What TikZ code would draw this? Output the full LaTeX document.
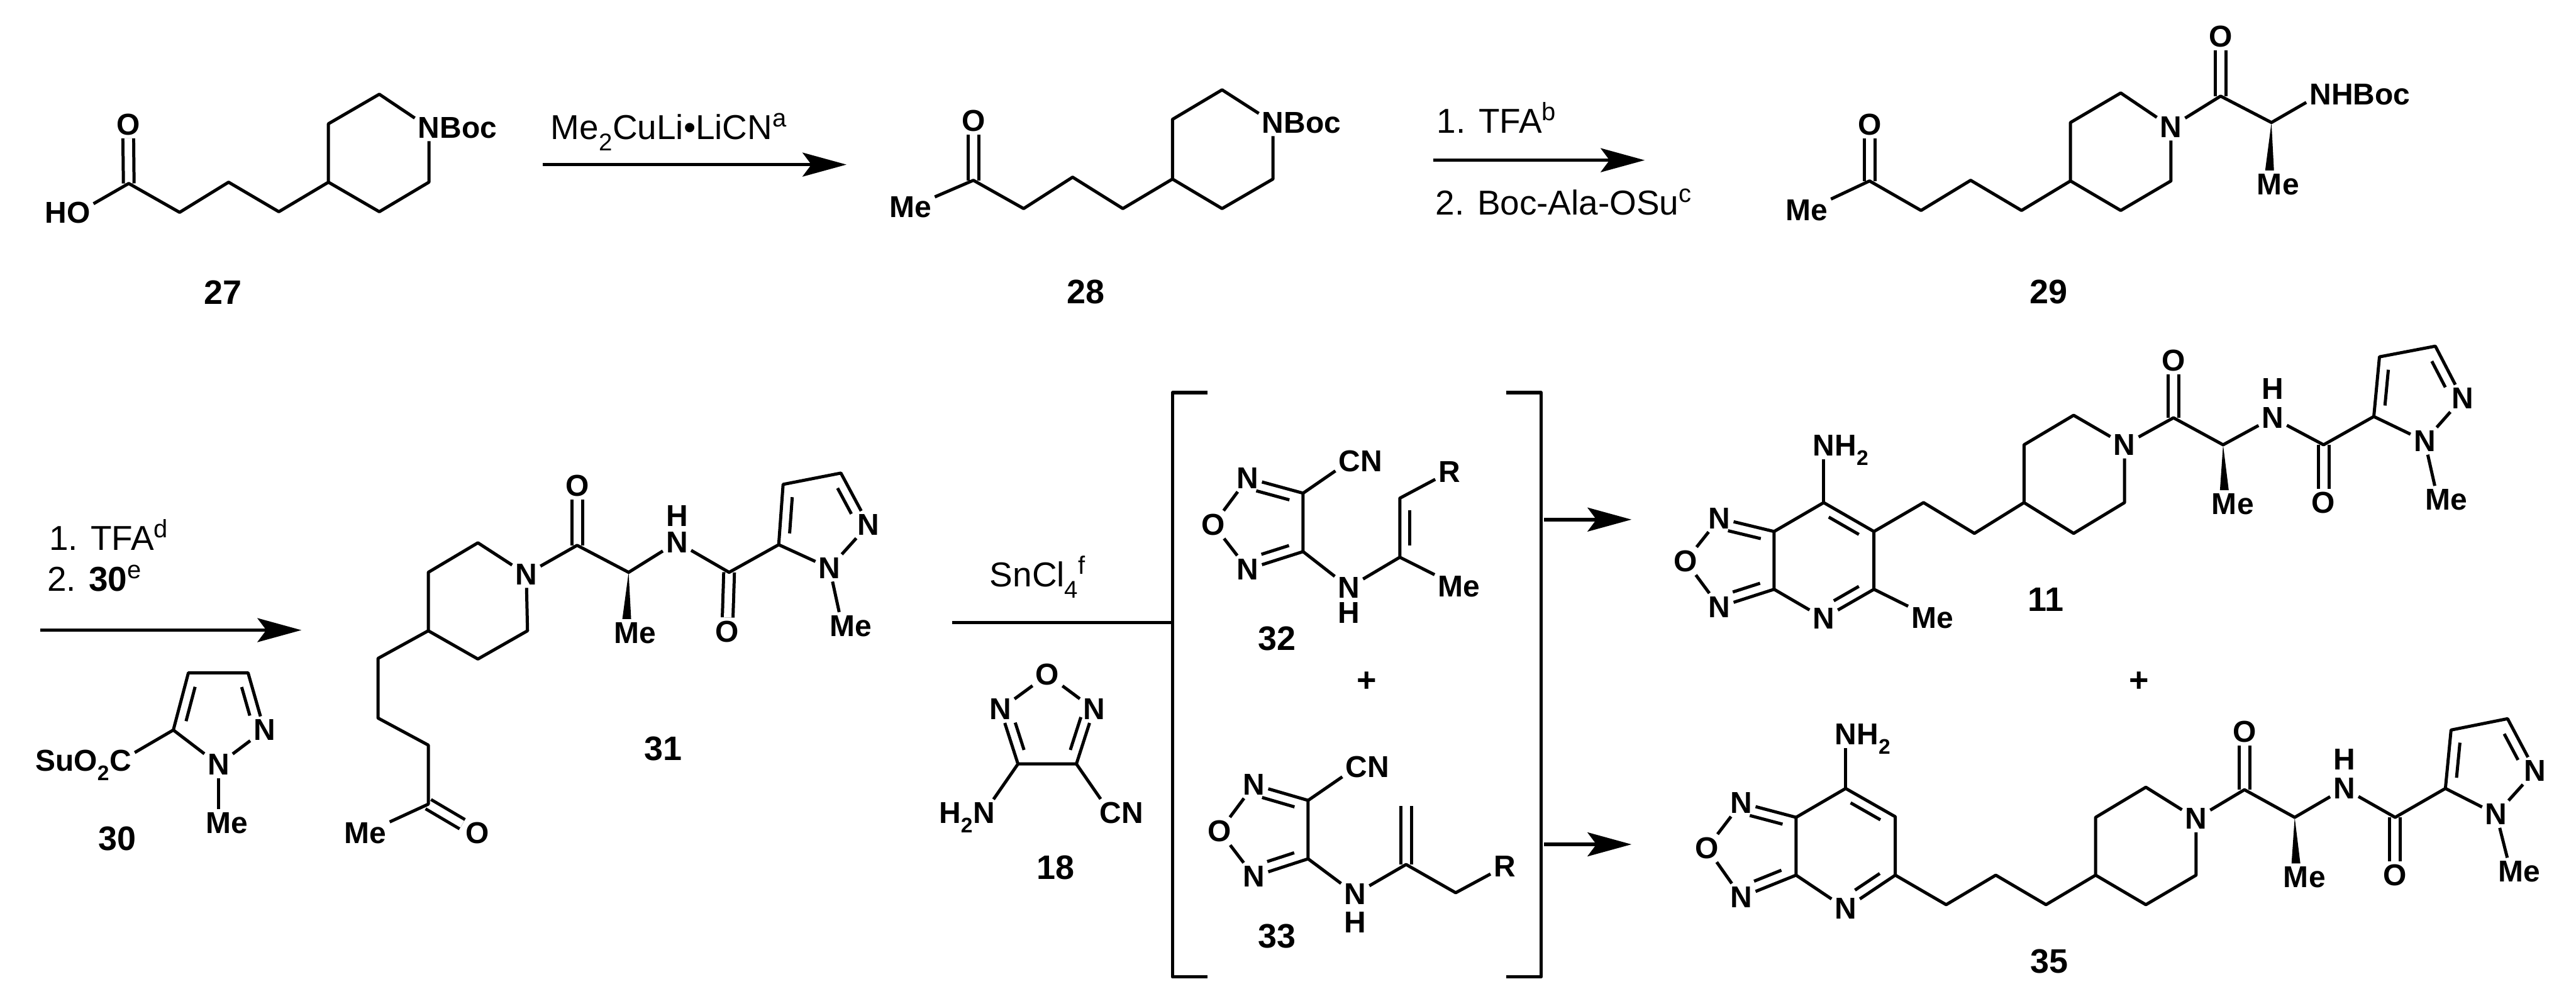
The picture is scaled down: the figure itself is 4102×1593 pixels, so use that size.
\documentclass[tikz,border=0pt]{standalone}
\usepackage{fontspec}
\setmainfont{Liberation Sans}
\usetikzlibrary{arrows.meta,calc,positioning}
\tikzset{
    bond/.style={line width=5pt,line join=round},
    dbl/.style={line width=5pt,double,double distance=12pt},
    rxn/.style={line width=5.5pt,-{Stealth[length=70pt,width=38pt,inset=14pt]}},
    atom/.style={font=\fontsize{48}{52}\selectfont\bfseries,inner sep=5pt},
    tailr/.style={atom,inner xsep=0pt,base right=-5pt of #1},
    taill/.style={atom,inner xsep=0pt,base left=-5pt of #1},
    cmpd/.style={font=\fontsize{54}{58}\selectfont\bfseries,inner sep=0pt},
    reagent/.style={font=\fontsize{55}{58}\selectfont,inner sep=0pt,anchor=base west}
}
\newcommand{\innerbond}[3][.2]{\draw[bond] ($(#2)!#1!(#3)!16pt!90:(#3)$) -- ($(#3)!.2!(#2)!16pt!-90:(#2)$);}
\newcommand{\wedgebond}[2]{\fill (#1) -- ([xshift=-7pt]#2.north) -- ([xshift=7pt]#2.north) -- cycle;}
\newcommand{\rgsup}[1]{\raisebox{20pt}{\fontsize{40}{42}\selectfont #1}}
\begin{document}
\begin{tikzpicture}[x=1pt,y=-1pt]
    \useasboundingbox (0,0) rectangle (4102,1593);

    \foreach \name/\xx/\yy in {c27a/205/292,c27b/286/338,c27c/364/290,c27d/444/337,c27e/523/290,c27f/523/197,c27g/604/150,c27h/683/290,c27i/604/337}
        \coordinate (\name) at (\xx,\yy);
    \node[atom] (o27a) at (204,198) {O};
    \node[atom] (o27b) at (125,338) {O};
    \node[taill=o27b] (h27) {H};
    \node[atom] (n27) at (683,203) {N};
    \node[tailr=n27] (boc27) {Boc};
    \draw[dbl] (c27a) -- (o27a);
    \draw[bond] (o27b) -- (c27a) -- (c27b) -- (c27c) -- (c27d) -- (c27e) -- (c27f) -- (c27g) -- (n27) -- (c27h) -- (c27i) -- (c27e);
    \node[cmpd] (lab27) at (355,465) {27};

    \coordinate (arr1a) at (864,262);
    \coordinate (arr1b) at (1348,262);
    \draw[rxn] (arr1a) -- (arr1b);
    \node[reagent] (rg1) at (877,222) {Me\textsubscript{2}CuLi•LiCN\rgsup{a}};

    \foreach \name/\xx/\yy in {c28a/1550/287,c28b/1630/332,c28c/1708/282,c28d/1788/332,c28e/1867/285,c28f/1867/190,c28g/1946/143,c28h/2027/285,c28i/1946/332}
        \coordinate (\name) at (\xx,\yy);
    \node[atom] (o28) at (1550,192) {O};
    \node[atom] (me28) at (1450,330) {Me};
    \node[atom] (n28) at (2027,195) {N};
    \node[tailr=n28] (boc28) {Boc};
    \draw[dbl] (c28a) -- (o28);
    \draw[bond] (me28) -- (c28a) -- (c28b) -- (c28c) -- (c28d) -- (c28e) -- (c28f) -- (c28g) -- (n28) -- (c28h) -- (c28i) -- (c28e);
    \node[cmpd] (lab28) at (1729,465) {28};

    \coordinate (arr2a) at (2282,255);
    \coordinate (arr2b) at (2619,255);
    \draw[rxn] (arr2a) -- (arr2b);
    \node[reagent] (rg2) at (2288,212) {1. TFA\rgsup{b}};
    \node[reagent] (rg3) at (2286,342) {2. Boc-Ala-OSu\rgsup{c}};

    \foreach \name/\xx/\yy in {c29a/2977/288,c29b/3059/335,c29c/3138/287,c29d/3219/335,c29e/3297/288,c29f/3297/195,c29g/3377/148,c29h/3457/288,c29i/3377/335,c29j/3536/153,c29k/3617/195}
        \coordinate (\name) at (\xx,\yy);
    \node[atom] (o29a) at (2977,198) {O};
    \node[atom] (o29b) at (3536,58) {O};
    \node[atom] (me29a) at (2877,335) {Me};
    \node[atom] (n29a) at (3457,202) {N};
    \node[atom] (n29b) at (3695,150) {N};
    \node[tailr=n29b] (boc29) {HBoc};
    \node[atom] (me29b) at (3614,293) {M};
    \node[tailr=me29b] (e29) {e};
    \draw[dbl] (c29a) -- (o29a);
    \draw[dbl] (c29j) -- (o29b);
    \draw[bond] (me29a) -- (c29a) -- (c29b) -- (c29c) -- (c29d) -- (c29e) -- (c29f) -- (c29g) -- (n29a) -- (c29h) -- (c29i) -- (c29e);
    \draw[bond] (n29a) -- (c29j) -- (c29k) -- (n29b);
    \wedgebond{c29k}{me29b}
    \node[cmpd] (lab29) at (3262,465) {29};

    \coordinate (arr3a) at (64,1003);
    \coordinate (arr3b) at (480,1003);
    \draw[rxn] (arr3a) -- (arr3b);
    \node[reagent] (rg4) at (78,876) {1. TFA\rgsup{d}};
    \node[reagent] (rg5) at (75,941) {2. \textbf{30}\rgsup{e}};

    \coordinate (c30a) at (276,1162);
    \coordinate (c30b) at (300,1071);
    \coordinate (c30c) at (395,1071);
    \node[atom] (c30d) at (192,1211) {C};
    \node[taill=c30d] (su30) {SuO\textsubscript{2}};
    \node[atom] (n30a) at (348,1217) {N};
    \node[atom] (n30b) at (421,1162) {N};
    \node[atom] (me30) at (348,1310) {M};
    \node[tailr=me30] (e30) {e};
    \draw[bond] (c30d) -- (c30a) -- (c30b) -- (c30c) -- (n30b) -- (n30a) -- (c30a);
    \draw[bond] (n30a) -- (me30);
    \innerbond{c30b}{c30a}
    \innerbond[.3]{n30b}{c30c}
    \node[cmpd] (lab30) at (187,1335) {30};

    \foreach \name/\xx/\yy in {c31a/682/1280,c31b/682/1186,c31c/602/1143,c31d/602/1048,c31e/682/1004,c31f/682/911,c31g/761/864,c31h/840/1004,c31i/761/1049,c31j/919/868,c31k/1001/911,c31l/1161/911,c31m/1240/867,c31n/1247/771,c31o/1339/753}
        \coordinate (\name) at (\xx,\yy);
    \node[atom] (o31a) at (760,1326) {O};
    \node[atom] (me31a) at (582,1326) {Me};
    \node[atom] (n31a) at (838,914) {N};
    \node[atom] (o31b) at (919,773) {O};
    \node[atom] (n31b) at (1078,863) {N};
    \node[atom] (h31) at (1078,821) {H};
    \node[atom] (o31c) at (1158,1005) {O};
    \node[atom] (n31c) at (1321,904) {N};
    \node[atom] (n31d) at (1383,835) {N};
    \node[atom] (me31b) at (998,1007) {M};
    \node[tailr=me31b] (e31b) {e};
    \node[atom] (me31c) at (1341,996) {M};
    \node[tailr=me31c] (e31c) {e};
    \draw[dbl] (c31a) -- (o31a);
    \draw[dbl] (c31j) -- (o31b);
    \draw[dbl] (c31l) -- (o31c);
    \draw[bond] (me31a) -- (c31a) -- (c31b) -- (c31c) -- (c31d) -- (c31e) -- (c31f) -- (c31g) -- (n31a) -- (c31h) -- (c31i) -- (c31e);
    \draw[bond] (n31a) -- (c31j) -- (c31k) -- (n31b) -- (c31l) -- (c31m) -- (c31n) -- (c31o) -- (n31d) -- (n31c) -- (c31m);
    \draw[bond] (n31c) -- (me31c);
    \wedgebond{c31k}{me31b}
    \innerbond{c31n}{c31m}
    \innerbond[.3]{n31d}{c31o}
    \node[cmpd] (lab31) at (1056,1192) {31};

    \coordinate (ln4a) at (1516,991);
    \coordinate (ln4b) at (1867,991);
    \draw[line width=5.5pt] (ln4a) -- (ln4b);
    \node[reagent] (rg6) at (1576,934) {SnCl\textsubscript{4}\rgsup{f}};

    \node[atom] (o18) at (1668,1074) {O};
    \node[atom] (n18a) at (1593,1129) {N};
    \node[atom] (n18b) at (1742,1129) {N};
    \coordinate (c18a) at (1621,1216);
    \coordinate (c18b) at (1714,1216);
    \node[atom] (n18c) at (1567,1294) {N};
    \node[taill=n18c] (h18) {H\textsubscript{2}};
    \node[atom] (c18c) at (1768,1294) {C};
    \node[tailr=c18c] (cn18) {N};
    \draw[bond] (n18a) -- (o18) -- (n18b) -- (c18b) -- (c18a) -- (n18a);
    \draw[bond] (c18a) -- (n18c);
    \draw[bond] (c18b) -- (c18c);
    \innerbond[.3]{n18a}{c18a}
    \innerbond{c18b}{n18b}
    \node[cmpd] (lab18) at (1681,1381) {18};

    \foreach \name/\xx/\yy in {brla/1923/625,brlb/1867/625,brlc/1867/1555,brld/1923/1555,brra/2398/625,brrb/2454/625,brrc/2454/1555,brrd/2398/1555}
        \coordinate (\name) at (\xx,\yy);
    \draw[bond,line width=5.5pt] (brla) -- (brlb) -- (brlc) -- (brld);
    \draw[bond,line width=5.5pt] (brra) -- (brrb) -- (brrc) -- (brrd);

    \node[atom] (o32) at (1932,835) {O};
    \node[atom] (n32a) at (1987,761) {N};
    \node[atom] (n32b) at (1987,906) {N};
    \coordinate (c32a) at (2075,785);
    \coordinate (c32b) at (2075,878);
    \node[atom] (c32c) at (2149,734) {C};
    \node[tailr=c32c] (cn32) {N};
    \node[atom] (n32c) at (2148,935) {N};
    \node[atom] (h32) at (2148,975) {H};
    \coordinate (c32d) at (2229,887);
    \coordinate (c32e) at (2229,793);
    \node[atom] (r32) at (2308,751) {R};
    \node[atom] (me32) at (2323,934) {Me};
    \draw[bond] (n32a) -- (o32) -- (n32b) -- (c32b) -- (c32a) -- (n32a);
    \draw[bond] (c32a) -- (c32c);
    \draw[bond] (c32b) -- (n32c) -- (c32d) -- (c32e) -- (r32);
    \draw[bond] (c32d) -- (me32);
    \innerbond[.3]{n32b}{c32b}
    \innerbond{c32a}{n32a}
    \innerbond{c32e}{c32d}
    \node[cmpd] (lab32) at (2033,1016) {32};
    \node[cmpd] (plus1) at (2176,1085) {+};

    \node[atom] (o33) at (1942,1323) {O};
    \node[atom] (n33a) at (1997,1249) {N};
    \node[atom] (n33b) at (1997,1395) {N};
    \coordinate (c33a) at (2083,1274);
    \coordinate (c33b) at (2083,1367);
    \node[atom] (c33c) at (2160,1221) {C};
    \node[tailr=c33c] (cn33) {N};
    \node[atom] (n33c) at (2158,1423) {N};
    \node[atom] (h33) at (2158,1468) {H};
    \coordinate (c33d) at (2239,1376);
    \coordinate (c33e) at (2239,1283);
    \coordinate (c33f) at (2318,1421);
    \node[atom] (r33) at (2396,1379) {R};
    \draw[dbl] (c33d) -- (c33e);
    \draw[bond] (n33a) -- (o33) -- (n33b) -- (c33b) -- (c33a) -- (n33a);
    \draw[bond] (c33a) -- (c33c);
    \draw[bond] (c33b) -- (n33c) -- (c33d) -- (c33f) -- (r33);
    \innerbond[.3]{n33b}{c33b}
    \innerbond{c33a}{n33a}
    \node[cmpd] (lab33) at (2033,1490) {33};

    \coordinate (arr5a) at (2459,827);
    \coordinate (arr5b) at (2598,827);
    \draw[rxn] (arr5a) -- (arr5b);
    \coordinate (arr6a) at (2459,1344);
    \coordinate (arr6b) at (2598,1344);
    \draw[rxn] (arr6a) -- (arr6b);

    \foreach \name/\xx/\yy in {c11a/2825/846,c11b/2825/938,c11c/2984/938,c11d/2984/846,c11e/2904/800,c11f/3063/800,c11g/3144/849,c11h/3223/800,c11i/3223/708,c11j/3302/661,c11k/3383/800,c11l/3302/849,c11m/3461/665,c11n/3540/708,c11o/3700/708,c11p/3780/663,c11q/3789/568,c11r/3878/551}
        \coordinate (\name) at (\xx,\yy);
    \node[atom] (o11a) at (2684,893) {O};
    \node[atom] (n11a) at (2738,825) {N};
    \node[atom] (n11b) at (2738,966) {N};
    \node[atom] (n11c) at (2904,984) {N};
    \node[atom] (me11a) at (3077,984) {Me};
    \node[atom] (n11d) at (2904,709) {N};
    \node[tailr=n11d] (h11a) {H\textsubscript{2}};
    \node[atom] (n11e) at (3383,708) {N};
    \node[atom] (o11b) at (3461,574) {O};
    \node[atom] (n11f) at (3619,665) {N};
    \node[atom] (h11b) at (3619,619) {H};
    \node[atom] (o11c) at (3700,800) {O};
    \node[atom] (n11g) at (3861,702) {N};
    \node[atom] (n11h) at (3921,634) {N};
    \node[atom] (me11b) at (3542,802) {M};
    \node[tailr=me11b] (e11b) {e};
    \node[atom] (me11c) at (3882,795) {M};
    \node[tailr=me11c] (e11c) {e};
    \draw[dbl] (c11m) -- (o11b);
    \draw[dbl] (c11o) -- (o11c);
    \draw[bond] (n11a) -- (o11a) -- (n11b) -- (c11b) -- (c11a) -- (n11a);
    \draw[bond] (c11b) -- (n11c) -- (c11c) -- (c11d) -- (c11e) -- (c11a);
    \draw[bond] (c11c) -- (me11a);
    \draw[bond] (c11e) -- (n11d);
    \draw[bond] (c11d) -- (c11f) -- (c11g) -- (c11h) -- (c11i) -- (c11j) -- (n11e) -- (c11k) -- (c11l) -- (c11h);
    \draw[bond] (n11e) -- (c11m) -- (c11n) -- (n11f) -- (c11o) -- (c11p) -- (c11q) -- (c11r) -- (n11h) -- (n11g) -- (c11p);
    \draw[bond] (n11g) -- (me11c);
    \wedgebond{c11n}{me11b}
    \innerbond[.3]{n11b}{c11b}
    \innerbond{c11a}{n11a}
    \innerbond[.3]{n11c}{c11c}
    \innerbond{c11d}{c11e}
    \innerbond{c11q}{c11p}
    \innerbond[.3]{n11h}{c11r}
    \node[cmpd] (lab11) at (3258,954) {11};
    \node[cmpd] (plus2) at (3406,1085) {+};

    \foreach \name/\xx/\yy in {c35a/2860/1301,c35b/2860/1393,c35c/3018/1393,c35d/3018/1300,c35e/2939/1255,c35f/3099/1440,c35g/3178/1393,c35h/3258/1440,c35i/3337/1393,c35j/3337/1301,c35k/3417/1253,c35l/3497/1393,c35m/3417/1440,c35n/3574/1257,c35o/3654/1301,c35p/3814/1301,c35q/3894/1255,c35r/3903/1162,c35s/3993/1144}
        \coordinate (\name) at (\xx,\yy);
    \node[atom] (o35a) at (2718,1350) {O};
    \node[atom] (n35a) at (2773,1278) {N};
    \node[atom] (n35b) at (2773,1428) {N};
    \node[atom] (n35c) at (2939,1446) {N};
    \node[atom] (n35d) at (2939,1169) {N};
    \node[tailr=n35d] (h35a) {H\textsubscript{2}};
    \node[atom] (n35e) at (3497,1303) {N};
    \node[atom] (o35b) at (3574,1165) {O};
    \node[atom] (n35f) at (3733,1255) {N};
    \node[atom] (h35b) at (3733,1209) {H};
    \node[atom] (o35c) at (3814,1393) {O};
    \node[atom] (n35g) at (3975,1296) {N};
    \node[atom] (n35h) at (4037,1227) {N};
    \node[atom] (me35b) at (3656,1396) {M};
    \node[tailr=me35b] (e35b) {e};
    \node[atom] (me35c) at (3998,1387) {M};
    \node[tailr=me35c] (e35c) {e};
    \draw[dbl] (c35n) -- (o35b);
    \draw[dbl] (c35p) -- (o35c);
    \draw[bond] (n35a) -- (o35a) -- (n35b) -- (c35b) -- (c35a) -- (n35a);
    \draw[bond] (c35b) -- (n35c) -- (c35c) -- (c35d) -- (c35e) -- (c35a);
    \draw[bond] (c35e) -- (n35d);
    \draw[bond] (c35c) -- (c35f) -- (c35g) -- (c35h) -- (c35i) -- (c35j) -- (c35k) -- (n35e) -- (c35l) -- (c35m) -- (c35i);
    \draw[bond] (n35e) -- (c35n) -- (c35o) -- (n35f) -- (c35p) -- (c35q) -- (c35r) -- (c35s) -- (n35h) -- (n35g) -- (c35q);
    \draw[bond] (n35g) -- (me35c);
    \wedgebond{c35o}{me35b}
    \innerbond[.3]{n35b}{c35b}
    \innerbond{c35a}{n35a}
    \innerbond[.3]{n35c}{c35c}
    \innerbond{c35d}{c35e}
    \innerbond{c35r}{c35q}
    \innerbond[.3]{n35h}{c35s}
    \node[cmpd] (lab35) at (3263,1530) {35};
\end{tikzpicture}
\end{document}
